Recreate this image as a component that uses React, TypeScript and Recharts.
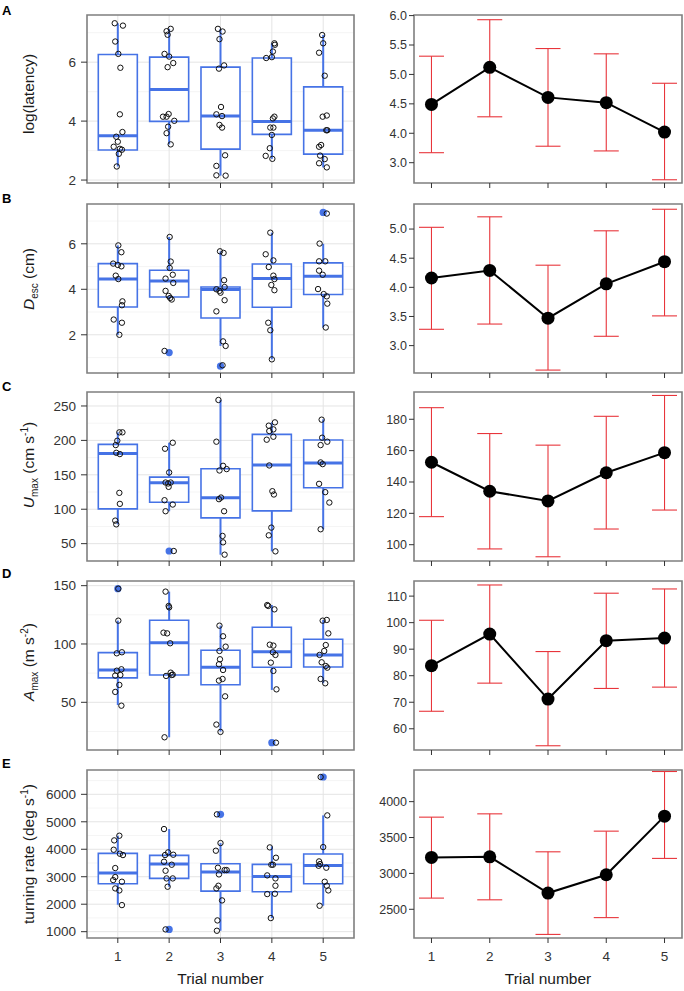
import React from 'react'
import { ComposedChart, Scatter, Line, XAxis, YAxis, CartesianGrid, ErrorBar, ReferenceArea } from 'recharts'

const FONT = '"Liberation Sans", Arial, Helvetica, sans-serif'
const BLUE = '#4673e6'
const RED = '#e8353b'
const BORDER = '#7f7f7f'

const trials = [1, 2, 3, 4, 5]

// A - log(latency)
const latencyLo = [2.46, 3.21, 2.15, 2.72, 2.43]
const latencyQ1 = [3.02, 3.99, 3.05, 3.55, 2.88]
const latencyMed = [3.5, 5.07, 4.17, 3.99, 3.69]
const latencyQ3 = [6.26, 6.17, 5.83, 6.14, 5.16]
const latencyHi = [7.32, 7.13, 7.13, 6.64, 6.92]
const latencyOutliers: [number, number][] = []
const latencyPoints: [number, number, number][] = [
    [1, -0.06, 7.32], [1, 0.1, 7.24], [1, -0.05, 6.7], [1, 0.01, 6.28], [1, 0.05, 5.81], [1, 0.04, 4.23], [1, 0.09, 3.63],
    [1, -0.03, 3.47], [1, 0, 3.3], [1, -0.08, 3.13], [1, 0.04, 3.06], [1, 0.08, 3.03], [1, 0.02, 2.89], [1, -0.02, 2.46],
    [2, 0.03, 7.13], [2, -0.05, 7.05], [2, -0.03, 6.93], [2, -0.09, 6.28], [2, 0, 6.19], [2, 0.08, 5.97], [2, -0.03, 5.83],
    [2, -0.01, 4.24], [2, -0.12, 4.15], [2, -0.05, 4.15], [2, 0.1, 4.01], [2, -0.02, 3.81], [2, -0.05, 3.59], [2, 0.03, 3.21],
    [3, -0.05, 7.13], [3, 0.04, 7.04], [3, -0.02, 6.78], [3, 0.07, 5.89], [3, -0.03, 5.78], [3, 0.01, 4.48], [3, -0.08, 4.23],
    [3, 0.03, 4.17], [3, -0.02, 3.87], [3, 0.03, 3.78], [3, 0.09, 2.84], [3, -0.08, 2.48], [3, -0.08, 2.16], [3, 0.1, 2.15],
    [4, 0.05, 6.64], [4, 0.06, 6.59], [4, 0.02, 6.36], [4, 0, 6.17], [4, -0.11, 6.14], [4, 0.05, 4.15], [4, 0.02, 4.09],
    [4, -0.03, 3.78], [4, 0.03, 3.78], [4, 0, 3.53], [4, -0.04, 3.08], [4, -0.12, 2.82], [4, 0.01, 2.72],
    [5, -0.02, 6.92], [5, 0, 6.64], [5, -0.08, 6.32], [5, 0.03, 5.54], [5, 0.07, 4.19], [5, -0.01, 4.15], [5, 0.06, 3.69],
    [5, 0.08, 3.69], [5, -0.04, 3.19], [5, -0.08, 3.13], [5, -0.06, 2.83], [5, 0.03, 2.71], [5, -0.08, 2.57], [5, 0.07, 2.43],
]
const latencyMean = [4.49, 5.12, 4.61, 4.52, 4.02]
const latencyErrLo = [3.67, 4.28, 3.78, 3.7, 3.21]
const latencyErrHi = [5.31, 5.93, 5.44, 5.35, 4.85]

// B - escape distance
const distLo = [2.0, 3.55, 1.51, 0.92, 2.32]
const distQ1 = [3.22, 3.66, 2.74, 3.21, 3.77]
const distMed = [4.45, 4.37, 3.99, 4.48, 4.57]
const distQ3 = [5.13, 4.84, 4.1, 5.11, 5.16]
const distHi = [5.93, 6.3, 5.67, 6.49, 6.0]
const distOutliers: [number, number][] = [[2, 1.22], [3, 0.62], [5, 7.38]]
const distPoints: [number, number, number][] = [
    [1, 0.01, 5.93], [1, 0.07, 5.63], [1, -0.09, 5.13], [1, 0, 5.07], [1, 0.07, 5.01], [1, -0.04, 4.6], [1, 0.01, 4.45],
    [1, 0.09, 3.47], [1, 0.08, 3.3], [1, -0.08, 2.67], [1, 0.08, 2.53], [1, 0.03, 2.0],
    [2, 0.01, 6.3], [2, 0.03, 5.22], [2, 0.01, 4.94], [2, 0.07, 4.64], [2, -0.07, 4.47], [2, 0.08, 4.28], [2, -0.07, 3.93],
    [2, -0.01, 3.71], [2, 0.02, 3.62], [2, 0.05, 3.55], [2, -0.09, 1.29],
    [3, -0.01, 5.67], [3, 0.06, 5.6], [3, 0.07, 4.4], [3, 0.08, 4.1], [3, -0.08, 4.0], [3, -0.02, 3.93], [3, 0, 3.85],
    [3, 0.08, 3.52], [3, -0.08, 3.03], [3, 0.05, 1.71], [3, 0.1, 1.51], [3, 0.04, 0.66],
    [4, -0.03, 6.49], [4, -0.12, 5.54], [4, 0.03, 5.27], [4, -0.06, 4.98], [4, 0.03, 4.6], [4, 0.05, 4.45], [4, -0.01, 4.19],
    [4, 0.05, 3.96], [4, -0.07, 2.53], [4, -0.03, 2.2], [4, 0, 0.92],
    [5, 0.07, 7.33], [5, -0.07, 6.01], [5, -0.08, 5.23], [5, 0.04, 5.23], [5, -0.08, 4.82], [5, -0.01, 4.64], [5, -0.1, 4.01],
    [5, 0.01, 3.79], [5, 0.07, 3.69], [5, 0.08, 3.37], [5, 0.05, 2.32],
]
const distMean = [4.16, 4.29, 3.47, 4.06, 4.44]
const distErrLo = [3.28, 3.37, 2.58, 3.16, 3.51]
const distErrHi = [5.03, 5.21, 4.38, 4.97, 5.34]

// C - max speed
const speedLo = [78, 97, 34, 38.8, 70.9]
const speedQ1 = [100.5, 110.2, 87.4, 97.6, 131.1]
const speedMed = [181, 138.3, 116.5, 164.1, 167]
const speedQ3 = [194.2, 146.6, 158.7, 208.7, 200.5]
const speedHi = [211.7, 196.6, 258.7, 226.2, 230.6]
const speedOutliers: [number, number][] = [[2, 39.3]]
const speedPoints: [number, number, number][] = [
    [1, 0.03, 211.7], [1, 0.09, 211.7], [1, -0.01, 199.5], [1, -0.04, 193.2], [1, -0.03, 182.0], [1, 0.04, 180.1],
    [1, 0.03, 123.8], [1, 0.04, 107.8], [1, -0.05, 83.5], [1, -0.03, 78.0],
    [2, 0.07, 196.6], [2, -0.08, 187.9], [2, 0, 153.4], [2, -0.07, 138.8], [2, -0.02, 137.4], [2, 0.03, 138.8],
    [2, -0.01, 132.5], [2, -0.09, 113.1], [2, 0.07, 106.8], [2, -0.07, 97.1], [2, 0.09, 39.3],
    [3, -0.04, 258.7], [3, -0.08, 198.1], [3, 0.05, 163.1], [3, -0.02, 156.3], [3, 0.12, 158.3], [3, -0.03, 114.6],
    [3, 0.01, 117.0], [3, 0.07, 97.1], [3, 0.04, 61.2], [3, 0.05, 51.9], [3, 0.08, 34.0],
    [4, 0.06, 226.2], [4, -0.06, 221.4], [4, 0.03, 216.0], [4, -0.05, 213.6], [4, 0.03, 205.3], [4, -0.1, 201.0],
    [4, -0.05, 163.6], [4, 0.01, 126.2], [4, 0.04, 121.4], [4, -0.01, 73.3], [4, -0.06, 62.1], [4, 0.07, 38.8],
    [5, -0.03, 230.1], [5, -0.05, 193.2], [5, -0.02, 203.9], [5, 0.08, 198.1], [5, -0.05, 168.0], [5, -0.01, 165.5],
    [5, -0.08, 136.9], [5, 0.04, 124.8], [5, 0.12, 109.7], [5, -0.05, 70.9],
]
const speedMean = [152.6, 134.1, 127.9, 145.9, 158.7]
const speedErrLo = [117.9, 97.3, 92.3, 110.0, 122.1]
const speedErrHi = [187.4, 170.9, 163.5, 181.9, 195.2]

// D - max acceleration
const accelLo = [47.7, 20, 24.9, 60.6, 66.3]
const accelQ1 = [70.9, 73.4, 65.1, 80, 80.3]
const accelMed = [77.7, 101.1, 80, 93.4, 90.6]
const accelQ3 = [92.6, 120.3, 94.6, 114.3, 104]
const accelHi = [120, 144.9, 115.7, 133.4, 120.6]
const accelOutliers: [number, number][] = [[1, 147.4], [4, 15.4]]
const accelPoints: [number, number, number][] = [
    [1, 0.01, 147.4], [1, 0.01, 120], [1, -0.02, 92], [1, 0.08, 92.9], [1, 0.07, 78.3], [1, -0.02, 77.1], [1, 0.05, 73.4],
    [1, -0.05, 72.9], [1, 0.03, 64.9], [1, -0.05, 58.9], [1, 0.07, 47.1],
    [2, -0.07, 144.9], [2, -0.01, 132.6], [2, 0, 131.4], [2, -0.11, 109.7], [2, -0.04, 109.1], [2, 0.02, 100.6],
    [2, 0.03, 75.4], [2, 0.05, 73.4], [2, -0.06, 72.6], [2, 0.07, 73.7], [2, -0.09, 20],
    [3, -0.02, 115.7], [3, 0.05, 106.6], [3, 0.1, 97.7], [3, -0.02, 94.0], [3, -0.01, 86.9], [3, -0.03, 82.6],
    [3, 0.05, 77.7], [3, 0.04, 70.0], [3, -0.03, 68.6], [3, 0.09, 55.1], [3, -0.08, 30.9], [3, 0, 24.6],
    [4, -0.09, 133.4], [4, -0.07, 132.6], [4, 0.05, 129.7], [4, -0.04, 99.4], [4, 0.03, 98.6], [4, 0.02, 92.9],
    [4, 0.07, 90.6], [4, -0.02, 84.0], [4, 0.03, 76.9], [4, 0.09, 61.1], [4, 0.08, 15.4],
    [5, -0.01, 120.0], [5, 0.07, 120.6], [5, 0.1, 109.1], [5, 0.05, 99.1], [5, 0.02, 94.0], [5, -0.07, 90.6],
    [5, -0.03, 84.3], [5, 0.05, 81.1], [5, 0.08, 79.7], [5, -0.05, 70.0], [5, 0.04, 66.3],
]
const accelMean = [83.8, 95.7, 71.2, 93.2, 94.2]
const accelErrLo = [66.6, 77.2, 53.6, 75.2, 75.7]
const accelErrHi = [100.9, 114.2, 89.1, 111.1, 112.7]

// E - turning rate
const turnLo = [1980, 2636, 1034, 1495, 1944]
const turnQ1 = [2745, 2939, 2478, 2454, 2745]
const turnMed = [3133, 3461, 3170, 3012, 3413]
const turnQ3 = [3850, 3777, 3473, 3449, 3825]
const turnHi = [4493, 4735, 4226, 4104, 5233]
const turnOutliers: [number, number][] = [[2, 1083], [3, 5270], [5, 6630]]
const turnPoints: [number, number, number][] = [
    [1, 0.03, 4493], [1, -0.07, 4323], [1, -0.08, 3983], [1, 0.04, 3837], [1, 0.1, 3789], [1, -0.05, 3316],
    [1, -0.05, 2988], [1, -0.09, 2879], [1, 0.08, 2818], [1, -0.05, 2575], [1, 0.03, 2502], [1, 0.08, 1968],
    [2, -0.1, 4735], [2, -0.08, 3789], [2, -0.02, 3886], [2, 0.08, 3801], [2, -0.1, 3546], [2, 0.05, 3437],
    [2, -0.07, 3218], [2, -0.05, 2939], [2, 0.07, 2939], [2, -0.03, 2636], [2, -0.07, 1083],
    [3, -0.07, 5270], [3, 0, 4226], [3, -0.09, 3947], [3, -0.05, 3328], [3, -0.03, 3085], [3, 0.08, 3243],
    [3, 0.12, 3243], [3, -0.04, 2672], [3, -0.08, 2575], [3, 0.03, 2138], [3, -0.06, 1410], [3, -0.07, 1034],
    [4, -0.04, 4068], [4, 0.08, 3692], [4, -0.01, 3437], [4, 0.02, 3437], [4, -0.09, 3049], [4, 0.07, 2939],
    [4, 0.07, 2672], [4, -0.09, 2369], [4, 0.06, 2381], [4, -0.02, 1495],
    [5, -0.05, 6630], [5, 0.08, 5233], [5, 0, 4080], [5, -0.08, 3558], [5, -0.06, 3461], [5, -0.09, 3400],
    [5, 0.06, 3328], [5, 0.03, 2818], [5, 0.07, 2672], [5, 0.1, 2502], [5, -0.07, 1944],
]
const turnMean = [3223, 3231, 2726, 2981, 3798]
const turnErrLo = [2656, 2632, 2150, 2384, 3209]
const turnErrHi = [3784, 3830, 3301, 3589, 4420]

// axis ticks
const latencyTicks = [2, 4, 6]
const latencyMinor = [3, 5, 7]
const distTicks = [2, 4, 6]
const distMinor = [1, 3, 5, 7]
const speedTicks = [50, 100, 150, 200, 250]
const speedMinor = [25, 75, 125, 175, 225]
const accelTicks = [50, 100, 150]
const accelMinor = [25, 75, 125]
const turnTicks = [1000, 2000, 3000, 4000, 5000, 6000]
const turnMinor = [1500, 2500, 3500, 4500, 5500, 6500]

const latencyMeanTicks = [3.5, 4, 4.5, 5, 5.5, 6]
const latencyMeanLabels = ['3.0', '4.0', '4.5', '5.0', '5.5', '6.0']
const distMeanTicks = [3, 3.5, 4, 4.5, 5]
const distMeanLabels = ['3.0', '3.5', '4.0', '4.5', '5.0']
const speedMeanTicks = [100, 120, 140, 160, 180]
const speedMeanLabels = ['100', '120', '140', '160', '180']
const accelMeanTicks = [60, 70, 80, 90, 100, 110]
const accelMeanLabels = ['60', '70', '80', '90', '100', '110']
const turnMeanTicks = [2500, 3000, 3500, 4000]
const turnMeanLabels = ['2500', '3000', '3500', '4000']

type Seg = { t: string; i?: boolean; sub?: boolean; sup?: boolean }
const latencyTitle: Seg[] = [{ t: 'log(latency)' }]
const distTitle: Seg[] = [{ t: 'D', i: true }, { t: 'esc', sub: true }, { t: ' (cm)' }]
const speedTitle: Seg[] = [{ t: 'U', i: true }, { t: 'max', sub: true }, { t: ' (cm s' }, { t: '-1', sup: true }, { t: ')' }]
const accelTitle: Seg[] = [{ t: 'A', i: true }, { t: 'max', sub: true }, { t: ' (m s' }, { t: '-2', sup: true }, { t: ')' }]
const turnTitle: Seg[] = [{ t: 'turning rate (deg s' }, { t: '-1', sup: true }, { t: ')' }]

const panels = [
    {
        letter: 'A', top: 15, height: 168, letterY: 15, titleY: 94, title: latencyTitle,
        lo: latencyLo, q1: latencyQ1, med: latencyMed, q3: latencyQ3, hi: latencyHi,
        outliers: latencyOutliers, points: latencyPoints, ticks: latencyTicks, minor: latencyMinor, domain: [1.9, 7.6],
        mean: latencyMean, errLo: latencyErrLo, errHi: latencyErrHi,
        meanTicks: latencyMeanTicks, meanLabels: latencyMeanLabels, meanDomain: [3.155, 6.01],
    },
    {
        letter: 'B', top: 203.5, height: 169, letterY: 203, titleY: 279, title: distTitle,
        lo: distLo, q1: distQ1, med: distMed, q3: distQ3, hi: distHi,
        outliers: distOutliers, points: distPoints, ticks: distTicks, minor: distMinor, domain: [0.32, 7.75],
        mean: distMean, errLo: distErrLo, errHi: distErrHi,
        meanTicks: distMeanTicks, meanLabels: distMeanLabels, meanDomain: [2.53, 5.43],
    },
    {
        letter: 'C', top: 392, height: 169, letterY: 391, titleY: 465, title: speedTitle,
        lo: speedLo, q1: speedQ1, med: speedMed, q3: speedQ3, hi: speedHi,
        outliers: speedOutliers, points: speedPoints, ticks: speedTicks, minor: speedMinor, domain: [24.8, 270.3],
        mean: speedMean, errLo: speedErrLo, errHi: speedErrHi,
        meanTicks: speedMeanTicks, meanLabels: speedMeanLabels, meanDomain: [89.6, 197.4],
    },
    {
        letter: 'D', top: 581, height: 169, letterY: 578, titleY: 662, title: accelTitle,
        lo: accelLo, q1: accelQ1, med: accelMed, q3: accelQ3, hi: accelHi,
        outliers: accelOutliers, points: accelPoints, ticks: accelTicks, minor: accelMinor, domain: [9.1, 154],
        mean: accelMean, errLo: accelErrLo, errHi: accelErrHi,
        meanTicks: accelMeanTicks, meanLabels: accelMeanLabels, meanDomain: [52, 115.7],
    },
    {
        letter: 'E', top: 770, height: 168, letterY: 768, titleY: 854, title: turnTitle,
        lo: turnLo, q1: turnQ1, med: turnMed, q3: turnQ3, hi: turnHi,
        outliers: turnOutliers, points: turnPoints, ticks: turnTicks, minor: turnMinor, domain: [770, 6885],
        mean: turnMean, errLo: turnErrLo, errHi: turnErrHi,
        meanTicks: turnMeanTicks, meanLabels: turnMeanLabels, meanDomain: [2100, 4441],
    },
]

type Panel = typeof panels[number]

// half the box width, in trial units
const BOX_HALF = 0.38

const MedianShape = (props: any) => (
    <line x1={props.cx - 19.5} x2={props.cx + 19.5} y1={props.cy} y2={props.cy} stroke={BLUE} strokeWidth={3} />
)
const OutlierShape = (props: any) => <circle cx={props.cx} cy={props.cy} r={3.6} fill={BLUE} />
const PointShape = (props: any) => (
    <circle cx={props.cx} cy={props.cy} r={2.7} fill="none" stroke="#111" strokeWidth={1} />
)
const Nothing = () => <g />

const trialLabel = (vb: any) => (
    <text x={vb.x + vb.width / 2} y={vb.y + 46} textAnchor="middle" fontSize={15.5} fontFamily={FONT} fill="#1a1a1a">
        Trial number
    </text>
)

function BoxPanel({ p, last }: { p: Panel; last: boolean }) {
    const boxData = trials.map((t, i) => ({
        x: t,
        q1: p.q1[i],
        q3: p.q3[i],
        med: p.med[i],
        lowWhisker: [p.q1[i] - p.lo[i], 0],
        highWhisker: [0, p.hi[i] - p.q3[i]],
    }))
    const pts = p.points.map(([t, j, v]) => ({ x: t + j, y: v }))
    const outs = p.outliers.map(([t, v]) => ({ x: t, y: v }))
    const axisH = last ? 52 : 10
    return (
        <div style={{ position: 'absolute', left: 0, top: p.top - 5 }}>
            <ComposedChart width={360} height={5 + p.height + axisH} data={boxData} margin={{ top: 5, right: 6, bottom: 0, left: 0 }}>
                <CartesianGrid horizontalValues={p.minor} vertical={false} stroke="#f2f2f2" strokeWidth={0.8} />
                <CartesianGrid horizontalValues={p.ticks} verticalValues={trials} stroke="#e4e4e4" strokeWidth={1} />
                <XAxis
                    type="number"
                    dataKey="x"
                    domain={[0.4, 5.6]}
                    ticks={trials}
                    interval={0}
                    allowDataOverflow
                    axisLine={false}
                    tickSize={5}
                    tickMargin={8}
                    height={axisH}
                    tickLine={{ stroke: '#333' }}
                    tick={{ fill: '#333', fontSize: 13.5, fontFamily: FONT }}
                    tickFormatter={(v) => (last ? String(v) : '')}
                    label={last ? { content: (props: any) => trialLabel(props.viewBox) } : undefined}
                />
                <YAxis
                    type="number"
                    domain={p.domain as [number, number]}
                    ticks={p.ticks}
                    interval={0}
                    allowDataOverflow
                    axisLine={false}
                    width={87}
                    tickSize={6}
                    tickMargin={5}
                    tickLine={{ stroke: '#333' }}
                    tick={{ fill: '#333', fontSize: 13.5, fontFamily: FONT }}
                />
                <Scatter data={boxData} dataKey="q1" shape={Nothing} isAnimationActive={false}>
                    <ErrorBar dataKey="lowWhisker" direction="y" width={0} stroke={BLUE} strokeWidth={2} isAnimationActive={false} />
                </Scatter>
                <Scatter data={boxData} dataKey="q3" shape={Nothing} isAnimationActive={false}>
                    <ErrorBar dataKey="highWhisker" direction="y" width={0} stroke={BLUE} strokeWidth={2} isAnimationActive={false} />
                </Scatter>
                {trials.map((t, i) => (
                    <ReferenceArea
                        key={t}
                        x1={t - BOX_HALF}
                        x2={t + BOX_HALF}
                        y1={p.q1[i]}
                        y2={p.q3[i]}
                        fill="#fff"
                        fillOpacity={1}
                        stroke={BLUE}
                        strokeWidth={1.6}
                    />
                ))}
                <Scatter data={boxData} dataKey="med" shape={MedianShape} isAnimationActive={false} />
                <Scatter data={outs} dataKey="y" shape={OutlierShape} isAnimationActive={false} />
                <Scatter data={pts} dataKey="y" shape={PointShape} isAnimationActive={false} />
                <ReferenceArea
                    x1={0.4}
                    x2={5.6}
                    y1={p.domain[0]}
                    y2={p.domain[1]}
                    fill="none"
                    fillOpacity={0}
                    stroke={BORDER}
                    strokeWidth={1.6}
                    ifOverflow="visible"
                />
            </ComposedChart>
        </div>
    )
}

function MeanPanel({ p, last }: { p: Panel; last: boolean }) {
    const data = trials.map((t, i) => ({
        x: t,
        mean: p.mean[i],
        err: [p.mean[i] - p.errLo[i], p.errHi[i] - p.mean[i]],
    }))
    const axisH = last ? 52 : 10
    return (
        <div style={{ position: 'absolute', left: 370, top: p.top - 5 }}>
            <ComposedChart width={314} height={5 + p.height + axisH} data={data} margin={{ top: 5, right: 2, bottom: 0, left: 0 }}>
                <XAxis
                    type="number"
                    dataKey="x"
                    domain={[0.7, 5.3]}
                    ticks={trials}
                    interval={0}
                    allowDataOverflow
                    axisLine={false}
                    tickSize={5}
                    tickMargin={8}
                    height={axisH}
                    tickLine={{ stroke: '#333' }}
                    tick={{ fill: '#333', fontSize: 13.5, fontFamily: FONT }}
                    tickFormatter={(v) => (last ? String(v) : '')}
                    label={last ? { content: (props: any) => trialLabel(props.viewBox) } : undefined}
                />
                <YAxis
                    type="number"
                    domain={p.meanDomain as [number, number]}
                    ticks={p.meanTicks}
                    interval={0}
                    allowDataOverflow
                    axisLine={false}
                    width={44}
                    tickSize={5}
                    tickMargin={2}
                    tickLine={{ stroke: '#333' }}
                    tick={{ fill: '#333', fontSize: 12.5, fontFamily: FONT }}
                    tickFormatter={(v, i) => p.meanLabels[i] ?? String(v)}
                />
                <Line
                    type="linear"
                    dataKey="mean"
                    stroke="#000"
                    strokeWidth={2}
                    dot={{ r: 6.5, fill: '#000', stroke: 'none' }}
                    isAnimationActive={false}
                >
                    <ErrorBar dataKey="err" direction="y" width={12.5} stroke={RED} strokeWidth={1.1} isAnimationActive={false} />
                </Line>
                <ReferenceArea
                    x1={0.7}
                    x2={5.3}
                    y1={p.meanDomain[0]}
                    y2={p.meanDomain[1]}
                    fill="none"
                    fillOpacity={0}
                    stroke={BORDER}
                    strokeWidth={1.6}
                    ifOverflow="visible"
                />
            </ComposedChart>
        </div>
    )
}

function Title({ segs, x, y }: { segs: Seg[]; x: number; y: number }) {
    let shift = 0
    return (
        <text transform={`rotate(-90 ${x} ${y})`} x={x} y={y} textAnchor="middle" fontSize={15.5} fontFamily={FONT} fill="#1a1a1a">
            {segs.map((s, k) => {
                const target = s.sub ? 4 : s.sup ? -6 : 0
                const dy = target - shift
                shift = target
                return (
                    <tspan key={k} dy={dy} fontSize={s.sub || s.sup ? 10 : 15.5} fontStyle={s.i ? 'italic' : 'normal'}>
                        {s.t}
                    </tspan>
                )
            })}
        </text>
    )
}

export default function App() {
    return (
        <div style={{ position: 'absolute', left: 0, top: 0, width: 684, height: 991, background: '#fff', fontFamily: FONT }}>
            {panels.map((p, k) => (
                <React.Fragment key={p.letter}>
                    <BoxPanel p={p} last={k === panels.length - 1} />
                    <MeanPanel p={p} last={k === panels.length - 1} />
                </React.Fragment>
            ))}
            <svg width={684} height={991} style={{ position: 'absolute', left: 0, top: 0, pointerEvents: 'none' }}>
                {panels.map((p) => (
                    <g key={p.letter}>
                        <text x={2} y={p.letterY} fontSize={13} fontWeight="bold" fontFamily={FONT} fill="#000">
                            {p.letter}
                        </text>
                        <Title segs={p.title} x={34} y={p.titleY} />
                    </g>
                ))}
            </svg>
        </div>
    )
}
